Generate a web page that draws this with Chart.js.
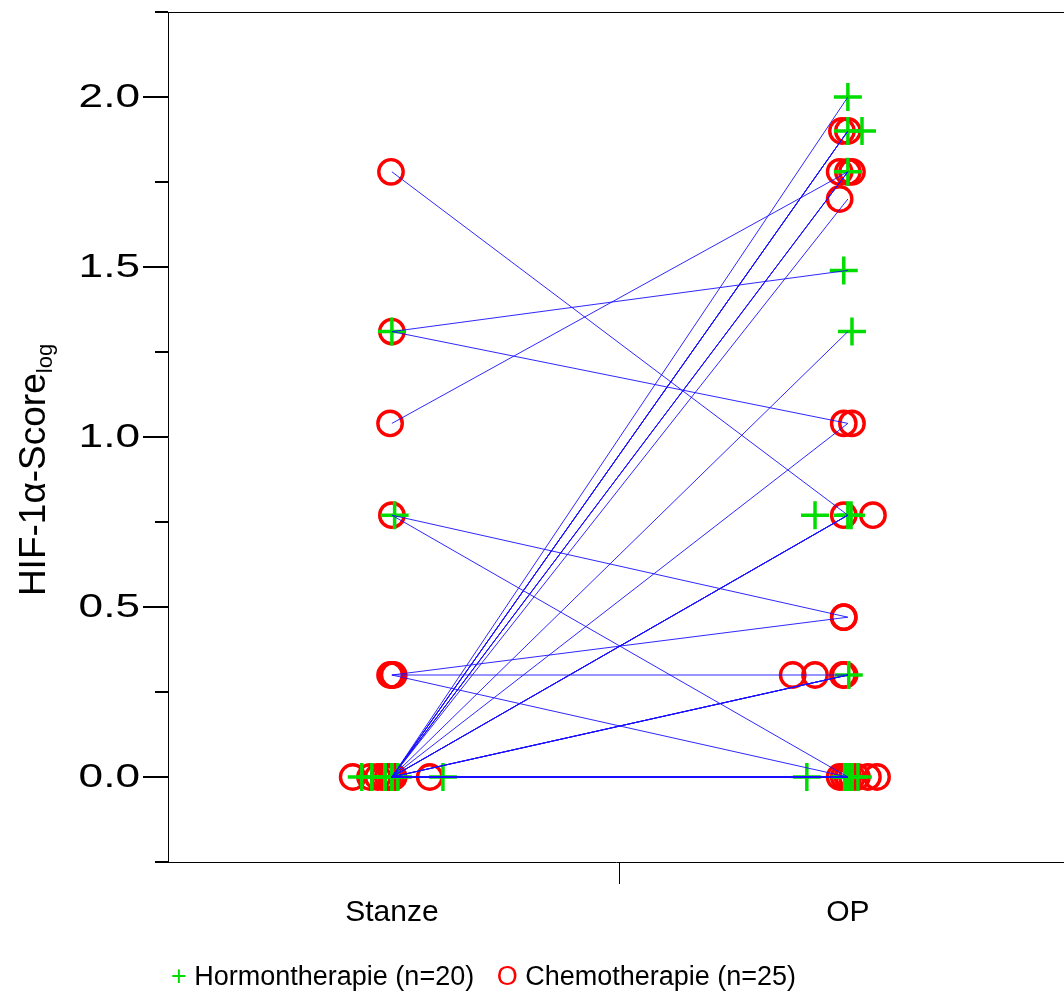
<!DOCTYPE html>
<html>
<head>
<meta charset="utf-8">
<title>HIF-1α-Score: Stanze vs. OP</title>
<script src="https://cdn.jsdelivr.net/npm/chart.js@4.4.1/dist/chart.umd.min.js"></script>
<style>
    html, body { margin: 0; padding: 0; background: #fff; overflow: hidden; }
    #wrap { width: 1064px; height: 996px; position: relative; }
</style>
</head>
<body>
<div id="wrap"><canvas id="myChart"></canvas></div>
<script>
const categories = ["Stanze", "OP"];
const yTickValues = [-0.25, 0, 0.25, 0.5, 0.75, 1, 1.25, 1.5, 1.75, 2, 2.25];
const yTickLabels = ["", "0.0", "", "0.5", "", "1.0", "", "1.5", "", "2.0", ""];

// Hormontherapie (n=20): log score at biopsy (Stanze) and at surgery (OP)
const hormonStanze = [0, 0, 0, 0, 0, 0, 0, 0, 0, 0, 0, 0, 0, 0, 0, 0, 0, 0, 1.31, 0.77];
const hormonOP     = [2.0, 1.90, 1.90, 1.78, 1.31, 0.77, 0.77, 0.77, 0.30, 0, 0, 0, 0, 0, 0, 0, 0, 0, 1.49, 0];
// horizontal jitter of the markers (x units)
const hormonStanzeJitter = [0, 0, -0.015, 0, 0, 0, 0, 0.013, 0, -0.066, -0.044, 0, 0, 0.112, 0, -0.015, 0, 0, 0, 0.006];
const hormonOPJitter     = [0, 0, 0.031, 0, 0.009, -0.072, 0, 0.007, 0.002, -0.090, -0.007, 0, 0, 0.009, 0.009, 0.022, 0, 0, -0.009, 0];

// Chemotherapie (n=25)
const chemoStanze = [1.78, 1.31, 1.04, 0.77, 0.30, 0.30, 0.30,
    0, 0, 0, 0, 0, 0, 0, 0, 0, 0, 0, 0, 0, 0, 0, 0, 0, 0];
const chemoOP     = [0.77, 1.04, 1.78, 0.47, 0.47, 0.30, 0,
    1.90, 1.90, 1.78, 1.78, 1.70, 1.04, 0.77, 0.30, 0.30, 0.30, 0, 0, 0, 0, 0, 0, 0, 0];
const chemoStanzeJitter = [-0.002, 0, -0.004, 0, -0.004, 0, 0.004,
    -0.086, -0.048, -0.031, -0.018, -0.009, 0, 0, 0, 0, 0, 0, 0, 0, 0.083, 0, 0, -0.018, 0.004];
const chemoOPJitter     = [0.055, 0.009, 0.009, -0.009, -0.009, -0.121, -0.018,
    -0.013, 0, -0.018, 0, -0.018, -0.009, -0.009, -0.072, -0.011, -0.007,
    -0.009, 0, 0, 0.009, 0.020, 0.044, 0.064, 0];

const FONT = '"Liberation Sans", Arial, Helvetica, sans-serif';
const GREEN = '#00dd00';
const RED = '#ff0000';

function init() {

    function markers(stanze, op, jStanze, jOp) {
        const pts = [];
        stanze.forEach((v, i) => pts.push({ x: 1 + jStanze[i], y: v }));
        op.forEach((v, i) => pts.push({ x: 2 + jOp[i], y: v }));
        return pts;
    }

    function pairLines(stanze, op) {
        return stanze.map((v, i) => ({
            data: [{ x: 1, y: v }, { x: 2, y: op[i] }],
            showLine: true,
            borderColor: 'rgba(25,15,255,0.9)',
            borderWidth: 1,
            pointRadius: 0,
            order: 0,
        }));
    }

    const datasets = [
        ...pairLines(hormonStanze, hormonOP),
        ...pairLines(chemoStanze, chemoOP),
        {
            label: "Hormontherapie (n=20)",
            data: markers(hormonStanze, hormonOP, hormonStanzeJitter, hormonOPJitter),
            pointStyle: 'cross',
            pointRadius: 14,
            borderColor: GREEN,
            borderWidth: 3.5,
            order: 1,
        },
        {
            label: "Chemotherapie (n=25)",
            data: markers(chemoStanze, chemoOP, chemoStanzeJitter, chemoOPJitter),
            pointStyle: 'circle',
            pointRadius: 12.2,
            borderColor: RED,
            backgroundColor: 'rgba(0,0,0,0)',
            borderWidth: 3.4,
            order: 2,
        },
    ];

    // y ticks, rotated axis title, top frame line and the text legend
    const decor = {
        id: 'decor',
        afterDraw(chart) {
            const ctx = chart.ctx;
            const area = chart.chartArea;
            const ys = chart.scales.y;
            ctx.save();

            ctx.strokeStyle = '#000';
            ctx.lineWidth = 1;
            ctx.beginPath();
            ctx.moveTo(area.left, area.top + 0.5);
            ctx.lineTo(area.right, area.top + 0.5);
            ctx.stroke();

            ctx.lineWidth = 2;
            ctx.fillStyle = '#000';
            ctx.font = '34px ' + FONT;
            ctx.textAlign = 'right';
            ctx.textBaseline = 'middle';
            yTickValues.forEach((v, i) => {
                const py = Math.round(ys.getPixelForValue(v));
                const len = yTickLabels[i] ? 25 : 13;
                ctx.beginPath();
                ctx.moveTo(area.left - len, py);
                ctx.lineTo(area.left, py);
                ctx.stroke();
                if (yTickLabels[i]) {
                    ctx.save();
                    ctx.translate(area.left - 28, py + 1);
                    ctx.scale(1.3, 1);
                    ctx.fillText(yTickLabels[i], 0, 0);
                    ctx.restore();
                }
            });

            // HIF-1α-Score with "log" subscript
            ctx.save();
            ctx.translate(45, 470);
            ctx.rotate(-Math.PI / 2);
            ctx.textAlign = 'left';
            ctx.textBaseline = 'alphabetic';
            const main = 'HIF-1α-Score';
            ctx.font = '37px ' + FONT;
            const wMain = ctx.measureText(main).width;
            ctx.font = '22px ' + FONT;
            const wSub = ctx.measureText('log').width;
            const x0 = -(wMain + wSub) / 2;
            ctx.font = '37px ' + FONT;
            ctx.fillText(main, x0, 0);
            ctx.font = '22px ' + FONT;
            ctx.fillText('log', x0 + wMain, 7);
            ctx.restore();

            // legend drawn as text symbols
            ctx.font = '27px ' + FONT;
            ctx.textAlign = 'left';
            ctx.textBaseline = 'middle';
            let lx = 171;
            const ly = 978;
            const parts = [
                ['+', GREEN], [' Hormontherapie (n=20)', '#000'], ['   ', '#000'],
                ['O', RED], [' Chemotherapie (n=25)', '#000'],
            ];
            parts.forEach(([t, c]) => {
                ctx.fillStyle = c;
                ctx.fillText(t, lx, ly);
                lx += ctx.measureText(t).width;
            });

            ctx.restore();
        }
    };

    const ctx = document.getElementById('myChart');

    new Chart(ctx, {
        type: 'scatter',
        data: { datasets: datasets },
        options: {
            responsive: true,
            maintainAspectRatio: false,
            animation: false,
            layout: {
                autoPadding: false,
                padding: { top: 12, left: 0, right: 0, bottom: 0 },
            },
            plugins: {
                legend: { display: false },
                tooltip: { enabled: false },
            },
            scales: {
                x: {
                    type: 'linear',
                    min: 0.509,
                    max: 2.474,
                    afterFit: (scale) => { scale.height = 134; },
                    afterBuildTicks: (scale) => {
                        scale.ticks = [{ value: 1 }, { value: 1.5 }, { value: 2 }];
                    },
                    ticks: {
                        autoSkip: false,
                        maxRotation: 0,
                        padding: 11,
                        color: '#000',
                        font: { family: FONT, size: 30 },
                        callback: (v) => v === 1 ? categories[0] : (v === 2 ? categories[1] : ''),
                    },
                    grid: {
                        display: true,
                        drawOnChartArea: false,
                        drawTicks: true,
                        tickLength: 22,
                        tickWidth: 1,
                        tickColor: (c) => (c.tick && c.tick.value === 1.5) ? '#000' : 'rgba(0,0,0,0)',
                    },
                    border: { display: true, color: '#000', width: 1 },
                },
                y: {
                    min: -0.25,
                    max: 2.25,
                    afterFit: (scale) => { scale.width = 168; },
                    ticks: { display: false },
                    grid: { display: false },
                    border: { display: true, color: '#000', width: 1 },
                },
            },
        },
        plugins: [decor],
    });
}

window.onload = () => {
    init();
};
</script>
</body>
</html>
